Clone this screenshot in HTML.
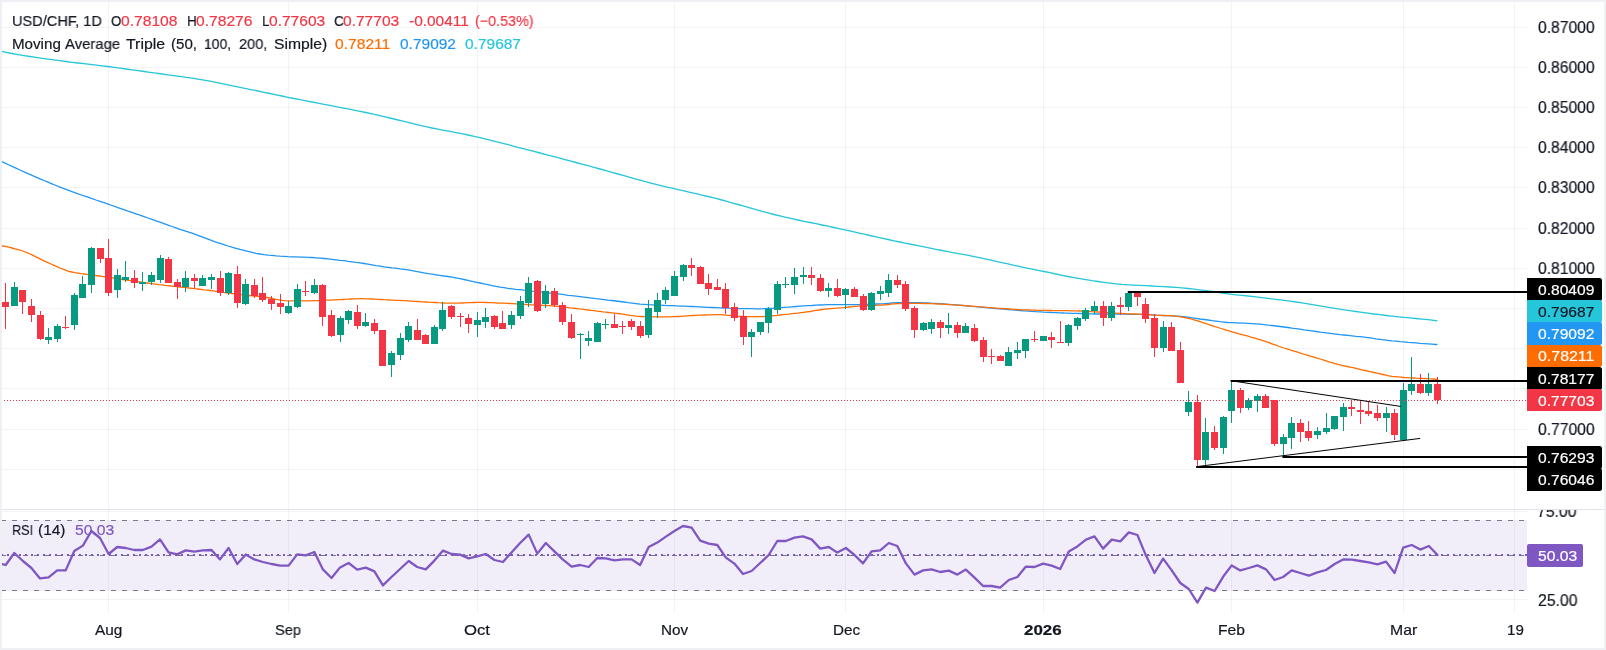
<!DOCTYPE html><html><head><meta charset="utf-8"><title>USD/CHF</title><style>
html,body{margin:0;padding:0;background:#fff}
body{width:1606px;height:650px;position:relative;overflow:hidden;font-family:"Liberation Sans",sans-serif;color:#131722}
.frame{position:absolute;left:0;top:0;width:1602px;height:646px;border:2px solid #eef0f4;pointer-events:none}
.t{position:absolute;white-space:nowrap;font-size:14px;line-height:16px;will-change:transform;-webkit-text-stroke:0.2px currentColor}
.n{font-size:15px}
.ax{position:absolute;left:1538px;width:60px;font-size:15px;line-height:16px;white-space:nowrap}
.lb{position:absolute;left:1527px;width:75px;height:22px;border-radius:2px;font-size:15px;line-height:22px;box-sizing:border-box;padding-left:11px;white-space:nowrap}
.tm{position:absolute;top:623px;width:80px;margin-left:-40px;text-align:center;font-size:14.5px;line-height:16px;will-change:transform;-webkit-text-stroke:0.2px currentColor}
.red{color:#f23645}

</style></head><body>
<svg width="1606" height="650" viewBox="0 0 1606 650" style="position:absolute;left:0;top:0">
<g shape-rendering="crispEdges" fill="rgba(42,46,57,0.06)">
<rect x="108" y="2" width="1" height="610"/>
<rect x="288" y="2" width="1" height="610"/>
<rect x="477" y="2" width="1" height="610"/>
<rect x="674" y="2" width="1" height="610"/>
<rect x="845" y="2" width="1" height="610"/>
<rect x="1043" y="2" width="1" height="610"/>
<rect x="1231" y="2" width="1" height="610"/>
<rect x="1403" y="2" width="1" height="610"/>
<rect x="1514" y="2" width="1" height="610"/>
<rect x="2" y="27" width="1525" height="1"/>
<rect x="2" y="67" width="1525" height="1"/>
<rect x="2" y="107" width="1525" height="1"/>
<rect x="2" y="147" width="1525" height="1"/>
<rect x="2" y="187" width="1525" height="1"/>
<rect x="2" y="228" width="1525" height="1"/>
<rect x="2" y="268" width="1525" height="1"/>
<rect x="2" y="308" width="1525" height="1"/>
<rect x="2" y="348" width="1525" height="1"/>
<rect x="2" y="388" width="1525" height="1"/>
<rect x="2" y="429" width="1525" height="1"/>
<rect x="2" y="469" width="1525" height="1"/>
<rect x="2" y="511" width="1525" height="1"/>
<rect x="2" y="599" width="1525" height="1"/>
</g>
<rect x="2" y="509" width="1602" height="1" fill="#e0e3eb" shape-rendering="crispEdges"/>
<rect x="2" y="520" width="1525" height="71" fill="#7e57c2" fill-opacity="0.1"/>
<g stroke="#787b86" stroke-width="1" stroke-dasharray="5 6" shape-rendering="crispEdges">
<line x1="1" y1="520.5" x2="1527" y2="520.5"/><line x1="1" y1="590.5" x2="1527" y2="590.5"/><line x1="1" y1="555.5" x2="1527" y2="555.5"/></g>
<line x1="1" y1="555" x2="1527" y2="555" stroke="#7e57c2" stroke-width="2" stroke-dasharray="2 4" shape-rendering="crispEdges"/>
<polyline points="0.0,51.0 6.0,52.3 12.0,53.5 18.0,54.6 24.0,55.6 30.0,56.5 36.0,57.4 42.0,58.3 48.0,59.1 54.0,59.9 60.0,60.7 66.0,61.5 72.0,62.3 78.0,63.0 84.0,63.7 90.0,64.4 96.0,65.1 102.0,65.8 108.0,66.5 114.0,67.3 120.0,68.1 126.0,69.0 132.0,69.8 138.0,70.7 144.0,71.5 150.0,72.4 156.0,73.2 162.0,74.0 168.0,74.8 174.0,75.6 180.0,76.4 186.0,77.3 192.0,78.1 198.0,79.1 204.0,80.1 210.0,81.2 216.0,82.3 222.0,83.6 228.0,84.8 234.0,86.1 240.0,87.3 246.0,88.6 252.0,89.8 258.0,91.0 264.0,92.3 270.0,93.5 276.0,94.8 282.0,96.0 288.0,97.3 294.0,98.5 300.0,99.6 306.0,100.8 312.0,102.0 318.0,103.1 324.0,104.3 330.0,105.4 336.0,106.6 342.0,107.8 348.0,108.9 354.0,110.1 360.0,111.3 366.0,112.5 372.0,113.8 378.0,115.2 384.0,116.6 390.0,118.0 396.0,119.5 402.0,120.9 408.0,122.4 414.0,123.9 420.0,125.3 426.0,126.7 432.0,128.0 438.0,129.2 444.0,130.3 450.0,131.4 456.0,132.6 462.0,133.7 468.0,135.0 474.0,136.3 480.0,137.7 486.0,139.1 492.0,140.6 498.0,142.1 504.0,143.6 510.0,145.2 516.0,146.8 522.0,148.3 528.0,149.9 534.0,151.4 540.0,153.0 546.0,154.6 552.0,156.1 558.0,157.7 564.0,159.3 570.0,160.9 576.0,162.5 582.0,164.1 588.0,165.7 594.0,167.3 600.0,169.0 606.0,170.6 612.0,172.3 618.0,174.0 624.0,175.7 630.0,177.4 636.0,179.1 642.0,180.7 648.0,182.3 654.0,183.8 660.0,185.3 666.0,186.8 672.0,188.2 678.0,189.6 684.0,190.9 690.0,192.3 696.0,193.7 702.0,195.1 708.0,196.5 714.0,197.9 720.0,199.5 726.0,201.1 732.0,202.8 738.0,204.5 744.0,206.2 750.0,207.9 756.0,209.6 762.0,211.3 768.0,212.9 774.0,214.5 780.0,215.9 786.0,217.3 792.0,218.7 798.0,220.0 804.0,221.3 810.0,222.5 816.0,223.7 822.0,225.0 828.0,226.2 834.0,227.5 840.0,228.8 846.0,230.1 852.0,231.4 858.0,232.8 864.0,234.1 870.0,235.5 876.0,236.8 882.0,238.1 888.0,239.5 894.0,240.8 900.0,242.0 906.0,243.3 912.0,244.5 918.0,245.7 924.0,246.9 930.0,248.1 936.0,249.3 942.0,250.5 948.0,251.6 954.0,252.8 960.0,253.9 966.0,254.9 972.0,256.1 978.0,257.3 984.0,258.6 990.0,259.9 996.0,261.3 1002.0,262.6 1008.0,263.9 1014.0,265.3 1020.0,266.6 1026.0,267.8 1032.0,269.1 1038.0,270.3 1044.0,271.5 1050.0,272.7 1056.0,274.0 1062.0,275.3 1068.0,276.5 1074.0,277.6 1080.0,278.7 1086.0,279.7 1092.0,280.7 1098.0,281.5 1104.0,282.3 1110.0,283.1 1116.0,283.8 1122.0,284.4 1128.0,284.8 1134.0,285.1 1140.0,285.4 1146.0,285.7 1152.0,286.0 1158.0,286.3 1164.0,286.7 1170.0,287.0 1176.0,287.4 1182.0,287.9 1188.0,288.5 1194.0,289.2 1200.0,289.9 1206.0,290.7 1212.0,291.5 1218.0,292.4 1224.0,293.3 1230.0,294.1 1236.0,294.8 1242.0,295.4 1248.0,296.0 1254.0,296.7 1260.0,297.4 1266.0,298.1 1272.0,298.9 1278.0,299.6 1284.0,300.4 1290.0,301.2 1296.0,302.0 1302.0,302.9 1308.0,303.9 1314.0,304.9 1320.0,305.9 1326.0,306.9 1332.0,307.9 1338.0,308.8 1344.0,309.8 1350.0,310.7 1356.0,311.5 1362.0,312.4 1368.0,313.2 1374.0,314.0 1380.0,314.7 1386.0,315.5 1392.0,316.2 1398.0,316.8 1404.0,317.4 1410.0,317.9 1416.0,318.5 1422.0,319.1 1428.0,319.7 1434.0,320.4 1437.0,320.8" fill="none" stroke="#26c6da" stroke-width="1.3" stroke-linejoin="round" stroke-linecap="round"/>
<polyline points="0.0,160.8 4.0,162.7 8.0,164.5 12.0,166.3 16.0,168.2 20.0,170.0 24.0,171.8 28.0,173.6 32.0,175.3 36.0,177.1 40.0,178.8 44.0,180.5 48.0,182.2 52.0,183.9 56.0,185.5 60.0,187.1 64.0,188.7 68.0,190.2 72.0,191.6 76.0,193.1 80.0,194.5 84.0,195.9 88.0,197.2 92.0,198.6 96.0,200.0 100.0,201.3 104.0,202.7 108.0,204.1 112.0,205.5 116.0,206.9 120.0,208.3 124.0,209.7 128.0,211.1 132.0,212.4 136.0,213.8 140.0,215.2 144.0,216.6 148.0,218.0 152.0,219.4 156.0,220.8 160.0,222.2 164.0,223.6 168.0,225.1 172.0,226.5 176.0,227.9 180.0,229.3 184.0,230.6 188.0,231.9 192.0,233.2 196.0,234.6 200.0,236.2 204.0,237.7 208.0,239.2 212.0,240.7 216.0,242.1 220.0,243.4 224.0,244.7 228.0,246.0 232.0,247.2 236.0,248.3 240.0,249.4 244.0,250.4 248.0,251.4 252.0,252.4 256.0,253.3 260.0,254.0 264.0,254.6 268.0,255.1 272.0,255.4 276.0,255.8 280.0,256.1 284.0,256.3 288.0,256.6 292.0,256.8 296.0,256.9 300.0,257.1 304.0,257.2 308.0,257.3 312.0,257.5 316.0,257.8 320.0,258.1 324.0,258.5 328.0,258.9 332.0,259.3 336.0,259.8 340.0,260.3 344.0,260.7 348.0,261.3 352.0,261.8 356.0,262.4 360.0,262.9 364.0,263.5 368.0,264.2 372.0,264.9 376.0,265.6 380.0,266.2 384.0,266.8 388.0,267.3 392.0,267.8 396.0,268.2 400.0,268.8 404.0,269.3 408.0,269.9 412.0,270.6 416.0,271.4 420.0,272.1 424.0,272.9 428.0,273.6 432.0,274.2 436.0,274.8 440.0,275.4 444.0,276.0 448.0,276.5 452.0,277.2 456.0,277.9 460.0,278.7 464.0,279.5 468.0,280.4 472.0,281.3 476.0,282.2 480.0,283.0 484.0,283.9 488.0,284.7 492.0,285.6 496.0,286.4 500.0,287.1 504.0,287.7 508.0,288.3 512.0,288.8 516.0,289.3 520.0,289.7 524.0,290.2 528.0,290.6 532.0,291.1 536.0,291.5 540.0,291.9 544.0,292.4 548.0,292.8 552.0,293.3 556.0,293.7 560.0,294.2 564.0,294.7 568.0,295.3 572.0,295.7 576.0,296.2 580.0,296.7 584.0,297.2 588.0,297.7 592.0,298.2 596.0,298.7 600.0,299.1 604.0,299.6 608.0,300.1 612.0,300.5 616.0,301.0 620.0,301.5 624.0,302.0 628.0,302.6 632.0,303.1 636.0,303.6 640.0,304.1 644.0,304.4 648.0,304.7 652.0,304.9 656.0,305.1 660.0,305.2 664.0,305.4 668.0,305.6 672.0,305.7 676.0,305.9 680.0,306.1 684.0,306.2 688.0,306.4 692.0,306.5 696.0,306.7 700.0,306.9 704.0,307.1 708.0,307.3 712.0,307.5 716.0,307.7 720.0,307.9 724.0,308.0 728.0,308.2 732.0,308.3 736.0,308.5 740.0,308.6 744.0,308.6 748.0,308.7 752.0,308.7 756.0,308.8 760.0,308.8 764.0,308.7 768.0,308.5 772.0,308.3 776.0,308.0 780.0,307.6 784.0,307.3 788.0,307.1 792.0,306.8 796.0,306.5 800.0,306.2 804.0,305.9 808.0,305.7 812.0,305.5 816.0,305.2 820.0,305.0 824.0,304.8 828.0,304.7 832.0,304.6 836.0,304.6 840.0,304.6 844.0,304.6 848.0,304.6 852.0,304.6 856.0,304.6 860.0,304.6 864.0,304.5 868.0,304.4 872.0,304.2 876.0,304.0 880.0,303.8 884.0,303.6 888.0,303.3 892.0,303.0 896.0,302.7 900.0,302.7 904.0,302.7 908.0,302.7 912.0,302.7 916.0,302.7 920.0,302.7 924.0,302.8 928.0,303.0 932.0,303.3 936.0,303.5 940.0,303.7 944.0,304.0 948.0,304.3 952.0,304.6 956.0,304.9 960.0,305.2 964.0,305.6 968.0,306.0 972.0,306.4 976.0,306.7 980.0,307.1 984.0,307.4 988.0,307.8 992.0,308.2 996.0,308.5 1000.0,308.9 1004.0,309.2 1008.0,309.5 1012.0,309.9 1016.0,310.2 1020.0,310.5 1024.0,310.8 1028.0,311.1 1032.0,311.3 1036.0,311.6 1040.0,311.8 1044.0,312.1 1048.0,312.3 1052.0,312.5 1056.0,312.6 1060.0,312.8 1064.0,313.0 1068.0,313.1 1072.0,313.3 1076.0,313.4 1080.0,313.5 1084.0,313.7 1088.0,313.8 1092.0,313.9 1096.0,314.0 1100.0,314.0 1104.0,314.1 1108.0,314.1 1112.0,314.1 1116.0,314.1 1120.0,314.2 1124.0,314.2 1128.0,314.3 1132.0,314.3 1136.0,314.4 1140.0,314.4 1144.0,314.5 1148.0,314.6 1152.0,314.9 1156.0,315.2 1160.0,315.4 1164.0,315.6 1168.0,315.7 1172.0,315.9 1176.0,316.1 1180.0,316.4 1184.0,316.7 1188.0,317.2 1192.0,317.8 1196.0,318.4 1200.0,319.0 1204.0,319.5 1208.0,320.0 1212.0,320.6 1216.0,321.1 1220.0,321.7 1224.0,322.1 1228.0,322.5 1232.0,322.7 1236.0,322.9 1240.0,323.1 1244.0,323.2 1248.0,323.4 1252.0,323.6 1256.0,323.9 1260.0,324.2 1264.0,324.6 1268.0,325.1 1272.0,325.5 1276.0,326.0 1280.0,326.5 1284.0,327.0 1288.0,327.5 1292.0,328.1 1296.0,328.6 1300.0,329.2 1304.0,329.8 1308.0,330.3 1312.0,330.9 1316.0,331.5 1320.0,332.1 1324.0,332.6 1328.0,333.1 1332.0,333.6 1336.0,334.1 1340.0,334.6 1344.0,335.0 1348.0,335.4 1352.0,335.8 1356.0,336.3 1360.0,336.7 1364.0,337.2 1368.0,337.7 1372.0,338.2 1376.0,338.8 1380.0,339.3 1384.0,339.8 1388.0,340.3 1392.0,340.8 1396.0,341.2 1400.0,341.6 1404.0,341.9 1408.0,342.3 1412.0,342.6 1416.0,342.9 1420.0,343.3 1424.0,343.6 1428.0,343.9 1432.0,344.2 1436.0,344.5 1437.0,344.6" fill="none" stroke="#2196f3" stroke-width="1.3" stroke-linejoin="round" stroke-linecap="round"/>
<polyline points="0.0,245.5 3.0,246.0 6.0,246.6 9.0,247.2 12.0,248.0 15.0,248.8 18.0,249.6 21.0,250.5 24.0,251.5 27.0,252.7 30.0,254.0 33.0,255.4 36.0,256.9 39.0,258.4 42.0,259.9 45.0,261.4 48.0,262.7 51.0,264.0 54.0,265.3 57.0,266.7 60.0,268.0 63.0,269.2 66.0,270.3 69.0,271.3 72.0,272.0 75.0,272.6 78.0,273.1 81.0,273.6 84.0,274.0 87.0,274.4 90.0,274.8 93.0,275.2 96.0,275.6 99.0,276.0 102.0,276.4 105.0,276.8 108.0,277.2 111.0,277.6 114.0,278.1 117.0,278.6 120.0,279.0 123.0,279.5 126.0,280.0 129.0,280.4 132.0,280.9 135.0,281.3 138.0,281.7 141.0,282.1 144.0,282.6 147.0,283.0 150.0,283.4 153.0,283.8 156.0,284.2 159.0,284.6 162.0,284.9 165.0,285.3 168.0,285.6 171.0,286.0 174.0,286.3 177.0,286.6 180.0,287.0 183.0,287.3 186.0,287.6 189.0,288.0 192.0,288.3 195.0,288.7 198.0,289.0 201.0,289.4 204.0,289.8 207.0,290.1 210.0,290.5 213.0,290.9 216.0,291.3 219.0,291.7 222.0,292.1 225.0,292.6 228.0,293.0 231.0,293.4 234.0,293.8 237.0,294.2 240.0,294.6 243.0,294.9 246.0,295.2 249.0,295.5 252.0,295.8 255.0,296.0 258.0,296.3 261.0,296.7 264.0,297.0 267.0,297.5 270.0,298.0 273.0,298.7 276.0,299.3 279.0,299.9 282.0,300.4 285.0,300.7 288.0,300.9 291.0,300.9 294.0,300.9 297.0,300.9 300.0,300.8 303.0,300.8 306.0,300.8 309.0,300.8 312.0,300.7 315.0,300.7 318.0,300.6 321.0,300.5 324.0,300.4 327.0,300.2 330.0,300.1 333.0,299.9 336.0,299.8 339.0,299.6 342.0,299.5 345.0,299.3 348.0,299.2 351.0,299.0 354.0,298.9 357.0,298.8 360.0,298.7 363.0,298.7 366.0,298.8 369.0,298.9 372.0,299.0 375.0,299.2 378.0,299.4 381.0,299.5 384.0,299.7 387.0,299.8 390.0,300.0 393.0,300.1 396.0,300.3 399.0,300.4 402.0,300.6 405.0,300.7 408.0,300.9 411.0,301.1 414.0,301.3 417.0,301.5 420.0,301.7 423.0,301.9 426.0,302.0 429.0,302.2 432.0,302.3 435.0,302.5 438.0,302.7 441.0,302.8 444.0,303.0 447.0,303.1 450.0,303.2 453.0,303.2 456.0,303.2 459.0,303.1 462.0,303.0 465.0,302.9 468.0,302.7 471.0,302.6 474.0,302.5 477.0,302.4 480.0,302.4 483.0,302.4 486.0,302.5 489.0,302.6 492.0,302.7 495.0,302.8 498.0,303.0 501.0,303.1 504.0,303.2 507.0,303.4 510.0,303.5 513.0,303.7 516.0,303.9 519.0,304.1 522.0,304.3 525.0,304.4 528.0,304.6 531.0,304.8 534.0,304.9 537.0,305.1 540.0,305.2 543.0,305.3 546.0,305.5 549.0,305.7 552.0,305.9 555.0,306.1 558.0,306.4 561.0,306.7 564.0,307.1 567.0,307.4 570.0,307.8 573.0,308.1 576.0,308.5 579.0,308.9 582.0,309.2 585.0,309.6 588.0,310.0 591.0,310.4 594.0,310.7 597.0,311.1 600.0,311.4 603.0,311.8 606.0,312.1 609.0,312.5 612.0,312.8 615.0,313.2 618.0,313.5 621.0,313.9 624.0,314.3 627.0,314.8 630.0,315.3 633.0,315.7 636.0,316.1 639.0,316.4 642.0,316.5 645.0,316.6 648.0,316.8 651.0,316.8 654.0,316.9 657.0,316.9 660.0,316.9 663.0,316.9 666.0,316.8 669.0,316.8 672.0,316.7 675.0,316.7 678.0,316.5 681.0,316.3 684.0,316.1 687.0,315.9 690.0,315.7 693.0,315.5 696.0,315.4 699.0,315.2 702.0,315.1 705.0,315.0 708.0,314.9 711.0,314.8 714.0,314.7 717.0,314.7 720.0,314.7 723.0,314.9 726.0,315.1 729.0,315.4 732.0,315.7 735.0,316.0 738.0,316.3 741.0,316.5 744.0,316.5 747.0,316.6 750.0,316.6 753.0,316.7 756.0,316.7 759.0,316.7 762.0,316.7 765.0,316.5 768.0,316.3 771.0,316.0 774.0,315.7 777.0,315.4 780.0,315.0 783.0,314.7 786.0,314.4 789.0,314.1 792.0,313.7 795.0,313.4 798.0,313.1 801.0,312.7 804.0,312.3 807.0,311.9 810.0,311.5 813.0,310.9 816.0,310.4 819.0,310.0 822.0,309.5 825.0,309.2 828.0,308.9 831.0,308.6 834.0,308.4 837.0,308.2 840.0,307.9 843.0,307.7 846.0,307.4 849.0,307.0 852.0,306.7 855.0,306.4 858.0,306.1 861.0,305.9 864.0,305.8 867.0,305.6 870.0,305.5 873.0,305.4 876.0,305.3 879.0,305.1 882.0,305.0 885.0,304.8 888.0,304.5 891.0,304.1 894.0,303.8 897.0,303.6 900.0,303.6 903.0,303.5 906.0,303.5 909.0,303.4 912.0,303.4 915.0,303.4 918.0,303.4 921.0,303.4 924.0,303.5 927.0,303.5 930.0,303.6 933.0,303.7 936.0,303.9 939.0,304.0 942.0,304.1 945.0,304.3 948.0,304.5 951.0,304.7 954.0,304.9 957.0,305.1 960.0,305.3 963.0,305.5 966.0,305.7 969.0,306.0 972.0,306.2 975.0,306.4 978.0,306.7 981.0,306.9 984.0,307.1 987.0,307.4 990.0,307.6 993.0,307.8 996.0,308.1 999.0,308.3 1002.0,308.5 1005.0,308.7 1008.0,308.9 1011.0,309.1 1014.0,309.3 1017.0,309.5 1020.0,309.6 1023.0,309.8 1026.0,309.9 1029.0,310.0 1032.0,310.1 1035.0,310.2 1038.0,310.3 1041.0,310.3 1044.0,310.4 1047.0,310.5 1050.0,310.5 1053.0,310.6 1056.0,310.6 1059.0,310.6 1062.0,310.7 1065.0,310.7 1068.0,310.7 1071.0,310.8 1074.0,310.8 1077.0,310.9 1080.0,311.0 1083.0,311.2 1086.0,311.3 1089.0,311.5 1092.0,311.7 1095.0,311.8 1098.0,312.0 1101.0,312.2 1104.0,312.4 1107.0,312.6 1110.0,312.8 1113.0,312.9 1116.0,313.1 1119.0,313.3 1122.0,313.5 1125.0,313.6 1128.0,313.8 1131.0,313.9 1134.0,314.0 1137.0,314.1 1140.0,314.2 1143.0,314.3 1146.0,314.5 1149.0,314.6 1152.0,314.9 1155.0,315.1 1158.0,315.3 1161.0,315.4 1164.0,315.5 1167.0,315.6 1170.0,315.7 1173.0,315.9 1176.0,316.2 1179.0,316.6 1182.0,317.1 1185.0,317.7 1188.0,318.3 1191.0,318.9 1194.0,319.8 1197.0,320.7 1200.0,321.7 1203.0,322.7 1206.0,323.7 1209.0,324.6 1212.0,325.6 1215.0,326.6 1218.0,327.5 1221.0,328.5 1224.0,329.4 1227.0,330.4 1230.0,331.2 1233.0,332.1 1236.0,332.9 1239.0,333.8 1242.0,334.6 1245.0,335.4 1248.0,336.2 1251.0,337.1 1254.0,337.9 1257.0,338.8 1260.0,339.7 1263.0,340.6 1266.0,341.6 1269.0,342.6 1272.0,343.8 1275.0,344.9 1278.0,346.0 1281.0,347.0 1284.0,348.0 1287.0,348.9 1290.0,349.9 1293.0,350.8 1296.0,351.7 1299.0,352.7 1302.0,353.6 1305.0,354.5 1308.0,355.4 1311.0,356.3 1314.0,357.2 1317.0,358.1 1320.0,359.0 1323.0,359.9 1326.0,360.8 1329.0,361.8 1332.0,362.7 1335.0,363.6 1338.0,364.4 1341.0,365.1 1344.0,365.8 1347.0,366.5 1350.0,367.1 1353.0,367.7 1356.0,368.4 1359.0,369.1 1362.0,369.8 1365.0,370.5 1368.0,371.2 1371.0,371.8 1374.0,372.5 1377.0,373.1 1380.0,373.8 1383.0,374.5 1386.0,375.2 1389.0,375.8 1392.0,376.3 1395.0,376.6 1398.0,376.9 1401.0,377.2 1404.0,377.5 1407.0,377.7 1410.0,377.9 1413.0,378.0 1416.0,378.2 1419.0,378.3 1422.0,378.4 1425.0,378.5 1428.0,378.7 1431.0,378.8 1434.0,379.0 1437.0,379.3 1437.3,379.3" fill="none" stroke="#ff6d00" stroke-width="1.3" stroke-linejoin="round" stroke-linecap="round"/>
<g shape-rendering="crispEdges">
<rect x="5" y="283" width="1" height="46" fill="#f23645"/>
<rect x="2" y="302" width="7" height="5" fill="#f23645"/>
<rect x="14" y="282" width="1" height="24" fill="#089981"/>
<rect x="11" y="287" width="7" height="19" fill="#089981"/>
<rect x="22" y="290" width="1" height="24" fill="#f23645"/>
<rect x="19" y="290" width="7" height="12" fill="#f23645"/>
<rect x="31" y="299" width="1" height="23" fill="#f23645"/>
<rect x="28" y="306" width="7" height="9" fill="#f23645"/>
<rect x="40" y="311" width="1" height="29" fill="#f23645"/>
<rect x="37" y="315" width="7" height="24" fill="#f23645"/>
<rect x="48" y="328" width="1" height="16" fill="#089981"/>
<rect x="45" y="337" width="7" height="3" fill="#089981"/>
<rect x="57" y="324" width="1" height="18" fill="#089981"/>
<rect x="54" y="326" width="7" height="13" fill="#089981"/>
<rect x="65" y="316" width="1" height="13" fill="#f23645"/>
<rect x="62" y="327" width="7" height="1" fill="#f23645"/>
<rect x="74" y="293" width="1" height="37" fill="#089981"/>
<rect x="71" y="295" width="7" height="30" fill="#089981"/>
<rect x="82" y="276" width="1" height="22" fill="#089981"/>
<rect x="79" y="284" width="7" height="14" fill="#089981"/>
<rect x="91" y="247" width="1" height="46" fill="#089981"/>
<rect x="88" y="248" width="7" height="37" fill="#089981"/>
<rect x="100" y="248" width="1" height="15" fill="#f23645"/>
<rect x="97" y="248" width="7" height="11" fill="#f23645"/>
<rect x="108" y="239" width="1" height="57" fill="#f23645"/>
<rect x="105" y="258" width="7" height="35" fill="#f23645"/>
<rect x="117" y="269" width="1" height="29" fill="#089981"/>
<rect x="114" y="275" width="7" height="15" fill="#089981"/>
<rect x="125" y="261" width="1" height="21" fill="#089981"/>
<rect x="122" y="277" width="7" height="3" fill="#089981"/>
<rect x="134" y="270" width="1" height="18" fill="#f23645"/>
<rect x="131" y="278" width="7" height="5" fill="#f23645"/>
<rect x="142" y="272" width="1" height="19" fill="#089981"/>
<rect x="139" y="282" width="7" height="2" fill="#089981"/>
<rect x="151" y="272" width="1" height="13" fill="#089981"/>
<rect x="148" y="275" width="7" height="7" fill="#089981"/>
<rect x="160" y="255" width="1" height="28" fill="#089981"/>
<rect x="157" y="258" width="7" height="22" fill="#089981"/>
<rect x="168" y="257" width="1" height="26" fill="#f23645"/>
<rect x="165" y="259" width="7" height="24" fill="#f23645"/>
<rect x="177" y="279" width="1" height="20" fill="#f23645"/>
<rect x="174" y="282" width="7" height="5" fill="#f23645"/>
<rect x="185" y="271" width="1" height="21" fill="#089981"/>
<rect x="182" y="278" width="7" height="9" fill="#089981"/>
<rect x="194" y="274" width="1" height="15" fill="#f23645"/>
<rect x="191" y="278" width="7" height="3" fill="#f23645"/>
<rect x="202" y="275" width="1" height="11" fill="#089981"/>
<rect x="199" y="278" width="7" height="8" fill="#089981"/>
<rect x="211" y="274" width="1" height="15" fill="#089981"/>
<rect x="208" y="277" width="7" height="3" fill="#089981"/>
<rect x="220" y="271" width="1" height="25" fill="#f23645"/>
<rect x="217" y="278" width="7" height="15" fill="#f23645"/>
<rect x="228" y="272" width="1" height="23" fill="#089981"/>
<rect x="225" y="273" width="7" height="20" fill="#089981"/>
<rect x="237" y="266" width="1" height="42" fill="#f23645"/>
<rect x="234" y="274" width="7" height="29" fill="#f23645"/>
<rect x="245" y="279" width="1" height="26" fill="#089981"/>
<rect x="242" y="284" width="7" height="20" fill="#089981"/>
<rect x="254" y="279" width="1" height="19" fill="#f23645"/>
<rect x="251" y="285" width="7" height="11" fill="#f23645"/>
<rect x="262" y="277" width="1" height="25" fill="#f23645"/>
<rect x="259" y="293" width="7" height="7" fill="#f23645"/>
<rect x="271" y="296" width="1" height="14" fill="#f23645"/>
<rect x="268" y="299" width="7" height="5" fill="#f23645"/>
<rect x="280" y="294" width="1" height="20" fill="#f23645"/>
<rect x="277" y="303" width="7" height="4" fill="#f23645"/>
<rect x="288" y="301" width="1" height="13" fill="#089981"/>
<rect x="285" y="306" width="7" height="7" fill="#089981"/>
<rect x="297" y="284" width="1" height="24" fill="#089981"/>
<rect x="294" y="289" width="7" height="18" fill="#089981"/>
<rect x="305" y="281" width="1" height="15" fill="#f23645"/>
<rect x="302" y="291" width="7" height="1" fill="#f23645"/>
<rect x="314" y="279" width="1" height="15" fill="#089981"/>
<rect x="311" y="285" width="7" height="8" fill="#089981"/>
<rect x="322" y="284" width="1" height="42" fill="#f23645"/>
<rect x="319" y="285" width="7" height="32" fill="#f23645"/>
<rect x="331" y="310" width="1" height="27" fill="#f23645"/>
<rect x="328" y="315" width="7" height="21" fill="#f23645"/>
<rect x="340" y="316" width="1" height="26" fill="#089981"/>
<rect x="337" y="318" width="7" height="17" fill="#089981"/>
<rect x="348" y="310" width="1" height="14" fill="#089981"/>
<rect x="345" y="311" width="7" height="9" fill="#089981"/>
<rect x="357" y="305" width="1" height="24" fill="#f23645"/>
<rect x="354" y="312" width="7" height="14" fill="#f23645"/>
<rect x="365" y="313" width="1" height="14" fill="#089981"/>
<rect x="362" y="322" width="7" height="4" fill="#089981"/>
<rect x="374" y="319" width="1" height="15" fill="#f23645"/>
<rect x="371" y="323" width="7" height="8" fill="#f23645"/>
<rect x="382" y="330" width="1" height="36" fill="#f23645"/>
<rect x="379" y="330" width="7" height="36" fill="#f23645"/>
<rect x="391" y="351" width="1" height="26" fill="#089981"/>
<rect x="388" y="353" width="7" height="12" fill="#089981"/>
<rect x="400" y="333" width="1" height="27" fill="#089981"/>
<rect x="397" y="338" width="7" height="17" fill="#089981"/>
<rect x="408" y="322" width="1" height="20" fill="#089981"/>
<rect x="405" y="326" width="7" height="14" fill="#089981"/>
<rect x="417" y="319" width="1" height="21" fill="#f23645"/>
<rect x="414" y="330" width="7" height="10" fill="#f23645"/>
<rect x="425" y="334" width="1" height="10" fill="#f23645"/>
<rect x="422" y="335" width="7" height="9" fill="#f23645"/>
<rect x="434" y="325" width="1" height="19" fill="#089981"/>
<rect x="431" y="327" width="7" height="17" fill="#089981"/>
<rect x="442" y="302" width="1" height="29" fill="#089981"/>
<rect x="439" y="310" width="7" height="19" fill="#089981"/>
<rect x="451" y="305" width="1" height="14" fill="#f23645"/>
<rect x="448" y="306" width="7" height="11" fill="#f23645"/>
<rect x="460" y="313" width="1" height="14" fill="#f23645"/>
<rect x="457" y="316" width="7" height="1" fill="#f23645"/>
<rect x="468" y="314" width="1" height="19" fill="#f23645"/>
<rect x="465" y="318" width="7" height="6" fill="#f23645"/>
<rect x="477" y="312" width="1" height="25" fill="#089981"/>
<rect x="474" y="320" width="7" height="5" fill="#089981"/>
<rect x="485" y="308" width="1" height="20" fill="#089981"/>
<rect x="482" y="317" width="7" height="5" fill="#089981"/>
<rect x="494" y="315" width="1" height="14" fill="#f23645"/>
<rect x="491" y="316" width="7" height="11" fill="#f23645"/>
<rect x="502" y="311" width="1" height="18" fill="#f23645"/>
<rect x="499" y="323" width="7" height="6" fill="#f23645"/>
<rect x="511" y="311" width="1" height="18" fill="#089981"/>
<rect x="508" y="315" width="7" height="10" fill="#089981"/>
<rect x="520" y="296" width="1" height="23" fill="#089981"/>
<rect x="517" y="301" width="7" height="15" fill="#089981"/>
<rect x="528" y="277" width="1" height="30" fill="#089981"/>
<rect x="525" y="283" width="7" height="20" fill="#089981"/>
<rect x="537" y="280" width="1" height="32" fill="#f23645"/>
<rect x="534" y="281" width="7" height="30" fill="#f23645"/>
<rect x="545" y="285" width="1" height="23" fill="#089981"/>
<rect x="542" y="291" width="7" height="13" fill="#089981"/>
<rect x="554" y="288" width="1" height="19" fill="#f23645"/>
<rect x="551" y="291" width="7" height="14" fill="#f23645"/>
<rect x="562" y="302" width="1" height="23" fill="#f23645"/>
<rect x="559" y="305" width="7" height="17" fill="#f23645"/>
<rect x="571" y="314" width="1" height="25" fill="#f23645"/>
<rect x="568" y="322" width="7" height="16" fill="#f23645"/>
<rect x="580" y="333" width="1" height="26" fill="#089981"/>
<rect x="577" y="334" width="7" height="1" fill="#089981"/>
<rect x="588" y="331" width="1" height="15" fill="#089981"/>
<rect x="585" y="338" width="7" height="3" fill="#089981"/>
<rect x="597" y="322" width="1" height="20" fill="#089981"/>
<rect x="594" y="323" width="7" height="19" fill="#089981"/>
<rect x="605" y="319" width="1" height="10" fill="#089981"/>
<rect x="602" y="324" width="7" height="1" fill="#089981"/>
<rect x="614" y="314" width="1" height="14" fill="#f23645"/>
<rect x="611" y="324" width="7" height="4" fill="#f23645"/>
<rect x="622" y="321" width="1" height="13" fill="#f23645"/>
<rect x="619" y="326" width="7" height="1" fill="#f23645"/>
<rect x="631" y="319" width="1" height="11" fill="#f23645"/>
<rect x="628" y="321" width="7" height="6" fill="#f23645"/>
<rect x="640" y="321" width="1" height="17" fill="#f23645"/>
<rect x="637" y="326" width="7" height="10" fill="#f23645"/>
<rect x="648" y="300" width="1" height="38" fill="#089981"/>
<rect x="645" y="308" width="7" height="27" fill="#089981"/>
<rect x="657" y="293" width="1" height="25" fill="#089981"/>
<rect x="654" y="300" width="7" height="12" fill="#089981"/>
<rect x="665" y="287" width="1" height="17" fill="#089981"/>
<rect x="662" y="290" width="7" height="10" fill="#089981"/>
<rect x="674" y="271" width="1" height="25" fill="#089981"/>
<rect x="671" y="276" width="7" height="20" fill="#089981"/>
<rect x="683" y="264" width="1" height="17" fill="#089981"/>
<rect x="680" y="265" width="7" height="12" fill="#089981"/>
<rect x="691" y="258" width="1" height="18" fill="#f23645"/>
<rect x="688" y="265" width="7" height="3" fill="#f23645"/>
<rect x="700" y="266" width="1" height="18" fill="#f23645"/>
<rect x="697" y="267" width="7" height="17" fill="#f23645"/>
<rect x="708" y="274" width="1" height="21" fill="#f23645"/>
<rect x="705" y="283" width="7" height="6" fill="#f23645"/>
<rect x="717" y="279" width="1" height="11" fill="#f23645"/>
<rect x="714" y="287" width="7" height="3" fill="#f23645"/>
<rect x="725" y="283" width="1" height="31" fill="#f23645"/>
<rect x="722" y="289" width="7" height="19" fill="#f23645"/>
<rect x="734" y="303" width="1" height="18" fill="#f23645"/>
<rect x="731" y="307" width="7" height="11" fill="#f23645"/>
<rect x="743" y="310" width="1" height="35" fill="#f23645"/>
<rect x="740" y="316" width="7" height="21" fill="#f23645"/>
<rect x="751" y="329" width="1" height="28" fill="#089981"/>
<rect x="748" y="332" width="7" height="5" fill="#089981"/>
<rect x="760" y="322" width="1" height="13" fill="#089981"/>
<rect x="757" y="322" width="7" height="10" fill="#089981"/>
<rect x="768" y="307" width="1" height="26" fill="#089981"/>
<rect x="765" y="309" width="7" height="14" fill="#089981"/>
<rect x="777" y="281" width="1" height="33" fill="#089981"/>
<rect x="774" y="284" width="7" height="26" fill="#089981"/>
<rect x="785" y="277" width="1" height="11" fill="#089981"/>
<rect x="782" y="284" width="7" height="1" fill="#089981"/>
<rect x="794" y="268" width="1" height="26" fill="#089981"/>
<rect x="791" y="277" width="7" height="8" fill="#089981"/>
<rect x="803" y="267" width="1" height="17" fill="#089981"/>
<rect x="800" y="275" width="7" height="2" fill="#089981"/>
<rect x="811" y="267" width="1" height="18" fill="#f23645"/>
<rect x="808" y="275" width="7" height="3" fill="#f23645"/>
<rect x="820" y="274" width="1" height="18" fill="#f23645"/>
<rect x="817" y="278" width="7" height="13" fill="#f23645"/>
<rect x="828" y="283" width="1" height="14" fill="#089981"/>
<rect x="825" y="288" width="7" height="3" fill="#089981"/>
<rect x="837" y="279" width="1" height="18" fill="#f23645"/>
<rect x="834" y="288" width="7" height="8" fill="#f23645"/>
<rect x="845" y="288" width="1" height="21" fill="#089981"/>
<rect x="842" y="289" width="7" height="6" fill="#089981"/>
<rect x="854" y="287" width="1" height="10" fill="#f23645"/>
<rect x="851" y="289" width="7" height="8" fill="#f23645"/>
<rect x="863" y="294" width="1" height="17" fill="#f23645"/>
<rect x="860" y="296" width="7" height="14" fill="#f23645"/>
<rect x="871" y="292" width="1" height="19" fill="#089981"/>
<rect x="868" y="293" width="7" height="17" fill="#089981"/>
<rect x="880" y="286" width="1" height="14" fill="#089981"/>
<rect x="877" y="291" width="7" height="3" fill="#089981"/>
<rect x="888" y="274" width="1" height="23" fill="#089981"/>
<rect x="885" y="280" width="7" height="13" fill="#089981"/>
<rect x="897" y="275" width="1" height="13" fill="#f23645"/>
<rect x="894" y="280" width="7" height="5" fill="#f23645"/>
<rect x="905" y="281" width="1" height="30" fill="#f23645"/>
<rect x="902" y="284" width="7" height="25" fill="#f23645"/>
<rect x="914" y="306" width="1" height="32" fill="#f23645"/>
<rect x="911" y="308" width="7" height="22" fill="#f23645"/>
<rect x="923" y="322" width="1" height="9" fill="#089981"/>
<rect x="920" y="323" width="7" height="7" fill="#089981"/>
<rect x="931" y="319" width="1" height="15" fill="#089981"/>
<rect x="928" y="322" width="7" height="7" fill="#089981"/>
<rect x="940" y="320" width="1" height="18" fill="#f23645"/>
<rect x="937" y="322" width="7" height="6" fill="#f23645"/>
<rect x="948" y="313" width="1" height="21" fill="#089981"/>
<rect x="945" y="325" width="7" height="3" fill="#089981"/>
<rect x="957" y="322" width="1" height="16" fill="#f23645"/>
<rect x="954" y="325" width="7" height="8" fill="#f23645"/>
<rect x="965" y="323" width="1" height="10" fill="#089981"/>
<rect x="962" y="326" width="7" height="7" fill="#089981"/>
<rect x="974" y="324" width="1" height="18" fill="#f23645"/>
<rect x="971" y="328" width="7" height="13" fill="#f23645"/>
<rect x="983" y="337" width="1" height="25" fill="#f23645"/>
<rect x="980" y="340" width="7" height="17" fill="#f23645"/>
<rect x="991" y="349" width="1" height="15" fill="#f23645"/>
<rect x="988" y="356" width="7" height="1" fill="#f23645"/>
<rect x="1000" y="355" width="1" height="6" fill="#f23645"/>
<rect x="997" y="356" width="7" height="5" fill="#f23645"/>
<rect x="1008" y="347" width="1" height="19" fill="#089981"/>
<rect x="1005" y="352" width="7" height="14" fill="#089981"/>
<rect x="1017" y="342" width="1" height="17" fill="#089981"/>
<rect x="1014" y="350" width="7" height="3" fill="#089981"/>
<rect x="1025" y="339" width="1" height="19" fill="#089981"/>
<rect x="1022" y="339" width="7" height="12" fill="#089981"/>
<rect x="1034" y="331" width="1" height="11" fill="#f23645"/>
<rect x="1031" y="339" width="7" height="1" fill="#f23645"/>
<rect x="1043" y="336" width="1" height="5" fill="#089981"/>
<rect x="1040" y="336" width="7" height="5" fill="#089981"/>
<rect x="1051" y="332" width="1" height="16" fill="#f23645"/>
<rect x="1048" y="337" width="7" height="3" fill="#f23645"/>
<rect x="1060" y="321" width="1" height="22" fill="#f23645"/>
<rect x="1057" y="342" width="7" height="1" fill="#f23645"/>
<rect x="1068" y="324" width="1" height="22" fill="#089981"/>
<rect x="1065" y="325" width="7" height="18" fill="#089981"/>
<rect x="1077" y="317" width="1" height="13" fill="#089981"/>
<rect x="1074" y="318" width="7" height="8" fill="#089981"/>
<rect x="1085" y="308" width="1" height="13" fill="#089981"/>
<rect x="1082" y="310" width="7" height="9" fill="#089981"/>
<rect x="1094" y="301" width="1" height="13" fill="#089981"/>
<rect x="1091" y="306" width="7" height="5" fill="#089981"/>
<rect x="1103" y="301" width="1" height="25" fill="#f23645"/>
<rect x="1100" y="306" width="7" height="12" fill="#f23645"/>
<rect x="1111" y="302" width="1" height="19" fill="#089981"/>
<rect x="1108" y="306" width="7" height="12" fill="#089981"/>
<rect x="1120" y="297" width="1" height="18" fill="#f23645"/>
<rect x="1117" y="305" width="7" height="2" fill="#f23645"/>
<rect x="1128" y="292" width="1" height="19" fill="#089981"/>
<rect x="1125" y="293" width="7" height="14" fill="#089981"/>
<rect x="1137" y="292" width="1" height="14" fill="#f23645"/>
<rect x="1134" y="293" width="7" height="4" fill="#f23645"/>
<rect x="1145" y="298" width="1" height="25" fill="#f23645"/>
<rect x="1142" y="304" width="7" height="15" fill="#f23645"/>
<rect x="1154" y="314" width="1" height="43" fill="#f23645"/>
<rect x="1151" y="318" width="7" height="30" fill="#f23645"/>
<rect x="1163" y="321" width="1" height="31" fill="#089981"/>
<rect x="1160" y="327" width="7" height="21" fill="#089981"/>
<rect x="1171" y="322" width="1" height="29" fill="#f23645"/>
<rect x="1168" y="327" width="7" height="24" fill="#f23645"/>
<rect x="1180" y="342" width="1" height="41" fill="#f23645"/>
<rect x="1177" y="350" width="7" height="33" fill="#f23645"/>
<rect x="1188" y="391" width="1" height="25" fill="#089981"/>
<rect x="1185" y="402" width="7" height="10" fill="#089981"/>
<rect x="1197" y="395" width="1" height="72" fill="#f23645"/>
<rect x="1194" y="402" width="7" height="58" fill="#f23645"/>
<rect x="1205" y="418" width="1" height="48" fill="#089981"/>
<rect x="1202" y="432" width="7" height="28" fill="#089981"/>
<rect x="1214" y="426" width="1" height="24" fill="#f23645"/>
<rect x="1211" y="432" width="7" height="16" fill="#f23645"/>
<rect x="1223" y="416" width="1" height="38" fill="#089981"/>
<rect x="1220" y="417" width="7" height="31" fill="#089981"/>
<rect x="1231" y="381" width="1" height="42" fill="#089981"/>
<rect x="1228" y="390" width="7" height="21" fill="#089981"/>
<rect x="1240" y="388" width="1" height="25" fill="#f23645"/>
<rect x="1237" y="390" width="7" height="18" fill="#f23645"/>
<rect x="1248" y="398" width="1" height="12" fill="#089981"/>
<rect x="1245" y="400" width="7" height="8" fill="#089981"/>
<rect x="1257" y="394" width="1" height="18" fill="#089981"/>
<rect x="1254" y="396" width="7" height="5" fill="#089981"/>
<rect x="1265" y="394" width="1" height="14" fill="#f23645"/>
<rect x="1262" y="396" width="7" height="12" fill="#f23645"/>
<rect x="1274" y="400" width="1" height="46" fill="#f23645"/>
<rect x="1271" y="400" width="7" height="44" fill="#f23645"/>
<rect x="1283" y="434" width="1" height="22" fill="#089981"/>
<rect x="1280" y="437" width="7" height="7" fill="#089981"/>
<rect x="1291" y="417" width="1" height="32" fill="#089981"/>
<rect x="1288" y="423" width="7" height="15" fill="#089981"/>
<rect x="1300" y="419" width="1" height="23" fill="#f23645"/>
<rect x="1297" y="423" width="7" height="9" fill="#f23645"/>
<rect x="1308" y="421" width="1" height="20" fill="#f23645"/>
<rect x="1305" y="431" width="7" height="7" fill="#f23645"/>
<rect x="1317" y="427" width="1" height="12" fill="#089981"/>
<rect x="1314" y="431" width="7" height="4" fill="#089981"/>
<rect x="1326" y="413" width="1" height="21" fill="#089981"/>
<rect x="1323" y="428" width="7" height="4" fill="#089981"/>
<rect x="1334" y="416" width="1" height="14" fill="#089981"/>
<rect x="1331" y="416" width="7" height="13" fill="#089981"/>
<rect x="1343" y="403" width="1" height="28" fill="#089981"/>
<rect x="1340" y="407" width="7" height="10" fill="#089981"/>
<rect x="1351" y="400" width="1" height="16" fill="#f23645"/>
<rect x="1348" y="407" width="7" height="2" fill="#f23645"/>
<rect x="1360" y="400" width="1" height="24" fill="#f23645"/>
<rect x="1357" y="410" width="7" height="2" fill="#f23645"/>
<rect x="1368" y="402" width="1" height="14" fill="#f23645"/>
<rect x="1365" y="411" width="7" height="3" fill="#f23645"/>
<rect x="1377" y="405" width="1" height="16" fill="#f23645"/>
<rect x="1374" y="413" width="7" height="5" fill="#f23645"/>
<rect x="1386" y="407" width="1" height="25" fill="#089981"/>
<rect x="1383" y="413" width="7" height="5" fill="#089981"/>
<rect x="1394" y="409" width="1" height="31" fill="#f23645"/>
<rect x="1391" y="413" width="7" height="22" fill="#f23645"/>
<rect x="1403" y="383" width="1" height="57" fill="#089981"/>
<rect x="1400" y="390" width="7" height="50" fill="#089981"/>
<rect x="1411" y="357" width="1" height="38" fill="#089981"/>
<rect x="1408" y="384" width="7" height="7" fill="#089981"/>
<rect x="1420" y="374" width="1" height="20" fill="#f23645"/>
<rect x="1417" y="384" width="7" height="9" fill="#f23645"/>
<rect x="1428" y="373" width="1" height="23" fill="#089981"/>
<rect x="1425" y="384" width="7" height="9" fill="#089981"/>
<rect x="1437" y="377" width="1" height="27" fill="#f23645"/>
<rect x="1434" y="384" width="7" height="16" fill="#f23645"/>
</g>
<line x1="1" y1="400.5" x2="1527" y2="400.5" stroke="#f23645" stroke-width="1" stroke-dasharray="1 2" shape-rendering="crispEdges"/>
<g stroke="#000" fill="none">
<line x1="1127.8" y1="292" x2="1527" y2="292" stroke-width="2"/>
<line x1="1230.7" y1="381" x2="1527" y2="381" stroke-width="2"/>
<line x1="1282.4" y1="457" x2="1527" y2="457" stroke-width="2"/>
<line x1="1196.2" y1="467" x2="1527" y2="467" stroke-width="2"/>
<line x1="1230.7" y1="380.7" x2="1400.6" y2="406.4" stroke-width="1"/>
<line x1="1196.2" y1="466.7" x2="1420.2" y2="438.4" stroke-width="1"/>
</g>
<polyline points="0.0,563.5 5.7,565.0 14.3,553.0 22.9,561.0 31.4,568.0 40.0,578.4 48.6,577.4 57.2,570.4 65.7,570.4 74.3,551.0 82.9,545.6 91.4,531.0 100.0,538.0 108.6,554.0 117.2,547.0 125.7,548.0 134.3,550.0 142.9,550.0 151.5,546.6 160.0,539.4 168.6,552.4 177.2,554.4 185.8,550.4 194.3,551.6 202.9,550.4 211.5,550.0 220.0,559.4 228.6,548.0 237.2,564.0 245.8,554.4 254.3,559.4 262.9,562.0 271.5,564.0 280.1,565.6 288.6,565.6 297.2,554.4 305.8,555.4 314.4,552.0 322.9,569.4 331.5,578.0 340.1,567.4 348.6,563.0 357.2,569.6 365.8,567.6 374.4,571.4 382.9,585.4 391.5,577.0 400.1,569.0 408.7,561.0 417.2,567.0 425.8,569.4 434.4,560.6 443.0,550.6 451.5,554.0 460.1,554.6 468.7,558.4 477.2,556.4 485.8,554.0 494.4,560.0 503.0,562.0 511.5,552.4 520.1,543.0 528.7,534.6 537.3,553.6 545.8,543.0 554.4,551.4 563.0,559.6 571.6,566.6 580.1,565.0 588.7,567.0 597.3,558.0 605.8,558.4 614.4,560.4 623.0,559.4 631.6,559.4 640.1,565.0 648.7,547.0 657.3,542.6 665.9,536.6 674.4,531.0 683.0,526.0 691.6,527.6 700.2,540.6 708.7,543.6 717.3,545.0 725.9,557.6 734.4,563.6 743.0,574.0 751.6,571.0 760.2,563.0 768.7,555.0 777.3,541.0 785.9,541.0 794.5,537.6 803.0,536.4 811.6,539.4 820.2,548.6 828.8,547.0 837.3,552.6 845.9,548.0 854.5,555.0 863.0,563.4 871.6,551.4 880.2,550.4 888.8,543.0 897.3,546.0 905.9,563.4 914.5,574.6 923.1,570.4 931.6,569.4 940.2,572.0 948.8,570.6 957.4,574.6 965.9,569.6 974.5,577.6 983.1,586.0 991.7,586.0 1000.2,587.6 1008.8,580.0 1017.4,577.0 1025.9,566.6 1034.5,567.0 1043.1,563.6 1051.7,565.6 1060.2,569.0 1068.8,551.6 1077.4,546.4 1086.0,539.6 1094.5,536.4 1103.1,548.6 1111.7,539.6 1120.3,541.4 1128.8,532.4 1137.4,535.0 1146.0,555.6 1154.5,573.0 1163.1,558.6 1171.7,570.4 1180.3,583.0 1188.8,589.0 1197.4,602.6 1206.0,587.6 1214.6,591.0 1223.1,576.8 1231.7,565.4 1240.3,570.4 1248.9,568.0 1257.4,565.4 1266.0,569.4 1274.6,580.0 1283.1,577.0 1291.7,570.4 1300.3,573.0 1308.9,575.6 1317.4,572.4 1326.0,570.0 1334.6,564.0 1343.2,559.4 1351.7,559.6 1360.3,561.0 1368.9,562.4 1377.5,564.4 1386.0,561.6 1394.6,573.0 1403.2,547.6 1411.7,545.0 1420.3,549.6 1428.9,546.0 1437.5,555.0" fill="none" stroke="#7e57c2" stroke-width="2.3" stroke-linejoin="round" stroke-linecap="round"/>
</svg>
<div class="lb" style="top:278.0px;height:22.6px;background:#000;border-radius:0 2.5px 2.5px 0"></div>
<div class="lb" style="top:300.0px;height:22.6px;background:#26c6da;border-radius:0 2.5px 2.5px 0"></div>
<div class="lb" style="top:322.0px;height:22.6px;background:#2196f3;border-radius:0 2.5px 2.5px 0"></div>
<div class="lb" style="top:344.5px;height:22.6px;background:#ff6d00;border-radius:0 2.5px 2.5px 0"></div>
<div class="lb" style="top:367.0px;height:22.6px;background:#000;border-radius:0 2.5px 2.5px 0"></div>
<div class="lb" style="top:389.0px;height:22.2px;background:#f23645;border-radius:0 2.5px 2.5px 0"></div>
<div class="lb" style="top:446.0px;height:22.6px;background:#000;border-radius:0 2.5px 2.5px 0"></div>
<div class="lb" style="top:468.4px;height:22.2px;background:#000;border-radius:0 2.5px 2.5px 0"></div>
<div class="lb" style="top:544.4px;width:56.3px;height:22.6px;background:#7e57c2"></div>
<div class="t" style="left:1537.60px;top:19.8px;font-size:16px;color:#131722;transform-origin:0 50%;transform:scaleX(0.9785)">0.87000</div>
<div class="t" style="left:1537.60px;top:59.8px;font-size:16px;color:#131722;transform-origin:0 50%;transform:scaleX(0.9785)">0.86000</div>
<div class="t" style="left:1537.60px;top:99.8px;font-size:16px;color:#131722;transform-origin:0 50%;transform:scaleX(0.9785)">0.85000</div>
<div class="t" style="left:1537.60px;top:139.8px;font-size:16px;color:#131722;transform-origin:0 50%;transform:scaleX(0.9785)">0.84000</div>
<div class="t" style="left:1537.60px;top:179.8px;font-size:16px;color:#131722;transform-origin:0 50%;transform:scaleX(0.9785)">0.83000</div>
<div class="t" style="left:1537.60px;top:220.8px;font-size:16px;color:#131722;transform-origin:0 50%;transform:scaleX(0.9785)">0.82000</div>
<div class="t" style="left:1537.60px;top:260.8px;font-size:16px;color:#131722;transform-origin:0 50%;transform:scaleX(0.9785)">0.81000</div>
<div class="t" style="left:1537.60px;top:421.8px;font-size:16px;color:#131722;transform-origin:0 50%;transform:scaleX(0.9785)">0.77000</div>
<div class="t" style="left:1538.20px;top:281.6px;font-size:15.5px;color:#fff;transform-origin:0 50%;transform:scaleX(1.0066)">0.80409</div>
<div class="t" style="left:1538.20px;top:303.6px;font-size:15.5px;color:#131722;transform-origin:0 50%;transform:scaleX(1.0066)">0.79687</div>
<div class="t" style="left:1538.20px;top:325.6px;font-size:15.5px;color:#fff;transform-origin:0 50%;transform:scaleX(1.0066)">0.79092</div>
<div class="t" style="left:1538.20px;top:348.1px;font-size:15.5px;color:#fff;transform-origin:0 50%;transform:scaleX(1.0275)">0.78211</div>
<div class="t" style="left:1538.20px;top:370.6px;font-size:15.5px;color:#fff;transform-origin:0 50%;transform:scaleX(1.0066)">0.78177</div>
<div class="t" style="left:1538.20px;top:392.6px;font-size:15.5px;color:#fff;transform-origin:0 50%;transform:scaleX(1.0066)">0.77703</div>
<div class="t" style="left:1538.20px;top:449.6px;font-size:15.5px;color:#fff;transform-origin:0 50%;transform:scaleX(1.0066)">0.76293</div>
<div class="t" style="left:1538.20px;top:472.0px;font-size:15.5px;color:#fff;transform-origin:0 50%;transform:scaleX(1.0066)">0.76046</div>
<div class="t" style="left:1538.20px;top:548.2px;font-size:15.5px;color:#fff;transform-origin:0 50%;transform:scaleX(1.0104)">50.03</div>
<div class="t" style="left:1537.90px;top:592.8px;font-size:16px;color:#131722;transform-origin:0 50%;transform:scaleX(0.9838)">25.00</div>
<div class="t" style="left:94.70px;top:622.1px;font-size:15px;color:#131722;transform-origin:0 50%;transform:scaleX(1.0261)">Aug</div>
<div class="t" style="left:275.30px;top:622.1px;font-size:15px;color:#131722;transform-origin:0 50%;transform:scaleX(0.9774)">Sep</div>
<div class="t" style="left:464.10px;top:622.1px;font-size:15px;color:#131722;transform-origin:0 50%;transform:scaleX(1.1138)">Oct</div>
<div class="t" style="left:660.60px;top:622.1px;font-size:15px;color:#131722;transform-origin:0 50%;transform:scaleX(1.0155)">Nov</div>
<div class="t" style="left:832.50px;top:622.1px;font-size:15px;color:#131722;transform-origin:0 50%;transform:scaleX(1.0155)">Dec</div>
<div class="t" style="left:1024.40px;top:622.1px;font-size:15px;color:#131722;font-weight:bold;transform-origin:0 50%;transform:scaleX(1.1266)">2026</div>
<div class="t" style="left:1218.40px;top:622.1px;font-size:15px;color:#131722;transform-origin:0 50%;transform:scaleX(1.0402)">Feb</div>
<div class="t" style="left:1389.90px;top:622.1px;font-size:15px;color:#131722;transform-origin:0 50%;transform:scaleX(1.0525)">Mar</div>
<div class="t" style="left:1506.90px;top:622.1px;font-size:15px;color:#131722;transform-origin:0 50%;transform:scaleX(1.0067)">19</div>
<div class="t" style="left:11.75px;top:12.8px;font-size:15px;color:#131722;transform-origin:0 50%;transform:scaleX(0.9712)">USD/CHF, 1D</div>
<div class="t" style="left:110.80px;top:12.8px;font-size:15px;color:#131722;transform-origin:0 50%;transform:scaleX(0.8825)">O</div>
<div class="t" style="left:120.70px;top:12.8px;font-size:15px;color:#f23645;transform-origin:0 50%;transform:scaleX(1.0418)">0.78108</div>
<div class="t" style="left:186.60px;top:12.8px;font-size:15px;color:#131722;transform-origin:0 50%;transform:scaleX(0.9037)">H</div>
<div class="t" style="left:195.90px;top:12.8px;font-size:15px;color:#f23645;transform-origin:0 50%;transform:scaleX(1.0418)">0.78276</div>
<div class="t" style="left:261.90px;top:12.8px;font-size:15px;color:#131722;transform-origin:0 50%;transform:scaleX(0.8989)">L</div>
<div class="t" style="left:268.80px;top:12.8px;font-size:15px;color:#f23645;transform-origin:0 50%;transform:scaleX(1.0362)">0.77603</div>
<div class="t" style="left:334.20px;top:12.8px;font-size:15px;color:#131722;transform-origin:0 50%;transform:scaleX(0.9130)">C</div>
<div class="t" style="left:343.20px;top:12.8px;font-size:15px;color:#f23645;transform-origin:0 50%;transform:scaleX(1.0362)">0.77703</div>
<div class="t" style="left:408.80px;top:12.8px;font-size:15px;color:#f23645;transform-origin:0 50%;transform:scaleX(1.0291)">-0.00411</div>
<div class="t" style="left:475.00px;top:12.8px;font-size:15px;color:#f23645;transform-origin:0 50%;transform:scaleX(0.9560)">(−0.53%)</div>
<div class="t" style="left:11.75px;top:36.1px;font-size:15px;color:#131722;transform-origin:0 50%;transform:scaleX(1.0101)">Moving</div>
<div class="t" style="left:65.10px;top:36.1px;font-size:15px;color:#131722;transform-origin:0 50%;transform:scaleX(0.9908)">Average</div>
<div class="t" style="left:125.90px;top:36.1px;font-size:15px;color:#131722;transform-origin:0 50%;transform:scaleX(1.0581)">Triple</div>
<div class="t" style="left:170.90px;top:36.1px;font-size:15px;color:#131722;transform-origin:0 50%;transform:scaleX(1.0054)">(50,</div>
<div class="t" style="left:203.50px;top:36.1px;font-size:15px;color:#131722;transform-origin:0 50%;transform:scaleX(0.9280)">100,</div>
<div class="t" style="left:238.90px;top:36.1px;font-size:15px;color:#131722;transform-origin:0 50%;transform:scaleX(0.9691)">200,</div>
<div class="t" style="left:273.50px;top:36.1px;font-size:15px;color:#131722;transform-origin:0 50%;transform:scaleX(1.0460)">Simple)</div>
<div class="t" style="left:335.40px;top:36.1px;font-size:15px;color:#ff6d00;transform-origin:0 50%;transform:scaleX(1.0412)">0.78211</div>
<div class="t" style="left:400.40px;top:36.1px;font-size:15px;color:#2196f3;transform-origin:0 50%;transform:scaleX(1.0326)">0.79092</div>
<div class="t" style="left:465.40px;top:36.1px;font-size:15px;color:#26c6da;transform-origin:0 50%;transform:scaleX(1.0326)">0.79687</div>
<div class="t" style="left:11.60px;top:522.0px;font-size:15px;color:#131722;transform-origin:0 50%;transform:scaleX(0.8475)">RSI</div>
<div class="t" style="left:38.40px;top:522.0px;font-size:15px;color:#131722;transform-origin:0 50%;transform:scaleX(1.0267)">(14)</div>
<div class="t" style="left:75.20px;top:522.0px;font-size:15px;color:#7e57c2;transform-origin:0 50%;transform:scaleX(1.0440)">50.03</div>
<div style="position:absolute;left:1527px;top:510px;width:77px;height:30px;overflow:hidden"><div class="t" style="left:9.6px;top:-6.5px;font-size:16px;transform-origin:0 50%;transform:scaleX(0.9838)">75.00</div></div>
<div class="frame"></div>
</body></html>
